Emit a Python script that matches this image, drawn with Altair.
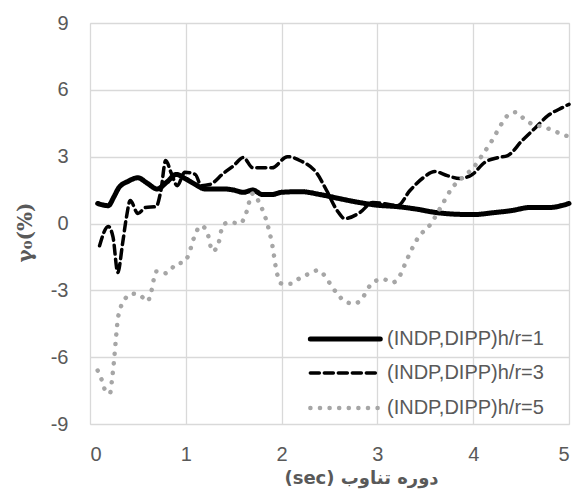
import altair as alt
import pandas as pd

# Period (sec) and gamma_0 (%) for each h/r case
period_r1 = [0.08, 0.19, 0.25, 0.3, 0.4, 0.5, 0.6, 0.7, 0.8, 0.9, 1.0, 1.1, 1.2, 1.4, 1.5,
             1.6, 1.7, 1.8, 1.9, 2.0, 2.2, 2.4, 2.6, 2.8, 3.0, 3.2, 3.4, 3.6, 3.8, 4.0,
             4.2, 4.4, 4.6, 4.8, 5.0]
gamma_r1 = [0.9, 0.8, 1.2, 1.6, 1.9, 2.05, 1.8, 1.55, 1.85, 2.2, 2.0, 1.75, 1.55, 1.55, 1.5,
            1.4, 1.5, 1.3, 1.3, 1.4, 1.43, 1.3, 1.12, 0.95, 0.82, 0.76, 0.65, 0.5, 0.42, 0.4,
            0.48, 0.58, 0.72, 0.72, 0.9]

period_r3 = [0.1, 0.19, 0.24, 0.29, 0.34, 0.38, 0.42, 0.5, 0.58, 0.69, 0.74, 0.79, 0.85,
             0.91, 0.99, 1.1, 1.16, 1.25, 1.39, 1.5, 1.6, 1.7, 1.8, 1.9, 2.06, 2.19, 2.37,
             2.47, 2.58, 2.66, 2.82, 2.95, 3.06, 3.21, 3.34, 3.48, 3.6, 3.73, 3.86, 3.99,
             4.12, 4.26, 4.36, 4.51, 4.65, 4.78, 4.93, 5.0]
gamma_r3 = [-1.0, -0.13, -0.6, -2.2, -0.9, 0.27, 1.03, 0.45, 0.72, 0.76, 1.48, 2.83, 2.24,
            1.7, 2.3, 2.2, 1.7, 1.75, 2.24, 2.6, 2.96, 2.5, 2.5, 2.5, 3.0, 2.83, 2.24,
            1.48, 0.58, 0.22, 0.5, 0.94, 0.9, 0.8, 1.48, 2.06, 2.33, 2.15, 2.02, 2.2,
            2.74, 2.96, 3.05, 3.72, 4.3, 4.84, 5.2, 5.35]

period_r5 = [0.08, 0.13, 0.17, 0.21, 0.23, 0.25, 0.27, 0.29, 0.31, 0.35, 0.44, 0.53, 0.6,
             0.64, 0.69, 0.76, 0.83, 0.9, 0.97, 1.03, 1.08, 1.16, 1.22, 1.28, 1.34, 1.39,
             1.46, 1.57, 1.62, 1.7, 1.77, 1.85, 1.9, 1.95, 2.0, 2.1, 2.19, 2.29, 2.38,
             2.46, 2.52, 2.6, 2.66, 2.76, 2.85, 2.92, 2.97, 3.06, 3.16, 3.24, 3.3, 3.42,
             3.56, 3.67, 3.78, 3.9, 4.0, 4.1, 4.2, 4.3, 4.36, 4.45, 4.53, 4.62, 4.72,
             4.82, 4.93, 5.0]
gamma_r5 = [-6.6, -7.1, -7.6, -7.6, -7.0, -6.2, -5.2, -4.3, -3.9, -3.5, -3.15, -3.25, -3.5,
            -3.05, -2.15, -2.25, -2.15, -1.8, -1.75, -1.4, -0.7, -0.1, -0.35, -1.25, -0.9,
            -0.05, 0.05, 0.0, 0.35, 1.35, 0.9, 0.0, -0.9, -2.2, -2.7, -2.7, -2.45, -2.25,
            -2.1, -2.4, -2.8, -3.25, -3.5, -3.6, -3.3, -2.8, -2.6, -2.5, -2.65, -2.3, -1.7,
            -0.67, 0.0, 0.8, 1.6, 2.1, 2.5, 3.1, 3.75, 4.5, 4.85, 5.0, 4.7, 4.45, 4.35,
            4.2, 4.0, 3.9]

series_names = ["(INDP,DIPP)h/r=1", "(INDP,DIPP)h/r=3", "(INDP,DIPP)h/r=5"]
series_colors = ["#000000", "#000000", "#a6a6a6"]
series_dash = [[1, 0], [9, 5], [0.1, 9.5]]
series_width = [5, 3.5, 4.5]

frames = []
for name, xs, ys in zip(series_names,
                        [period_r1, period_r3, period_r5],
                        [gamma_r1, gamma_r3, gamma_r5]):
    frames.append(pd.DataFrame({"period": xs, "gamma": ys, "series": name}))
df = pd.concat(frames, ignore_index=True)

# Legend key, placed inside the lower-right of the plot (in axis units)
legend_df = pd.DataFrame({
    "series": series_names,
    "x0": [2.3] * 3,
    "x1": [3.03] * 3,
    "xt": [3.1] * 3,
    "y": [-5.18, -6.71, -8.28],
})

FONT = "Liberation Sans"
LABEL_COLOR = "#595959"
GRID = "#d9d9d9"

x_scale = alt.Scale(domain=[0, 5], nice=False)
y_scale = alt.Scale(domain=[-9, 9], nice=False)
color_enc = alt.Color("series:N",
                      scale=alt.Scale(domain=series_names, range=series_colors),
                      legend=None)
dash_enc = alt.StrokeDash("series:N",
                          scale=alt.Scale(domain=series_names, range=series_dash),
                          legend=None)
width_enc = alt.StrokeWidth("series:N",
                            scale=alt.Scale(type="ordinal", domain=series_names,
                                            range=series_width),
                            legend=None)

lines = alt.Chart(df).mark_line(interpolate="monotone", strokeCap="round").encode(
    x=alt.X(
        "period:Q",
        scale=x_scale,
        axis=alt.Axis(
            values=[0, 1, 2, 3, 4, 5],
            labelExpr="toString(datum.value)",
            title="(sec) دوره تناوب",
            titleFont="DejaVu Sans",
            titleFontSize=18,
            titleFontWeight="bold",
            titleColor=LABEL_COLOR,
            titleX=271,
            titleY=54,
            titleAlign="center",
            titleBaseline="middle",
            labelFont=FONT,
            labelFontSize=20,
            labelColor=LABEL_COLOR,
            labelPadding=20,
            ticks=False,
            domain=False,
            gridColor=GRID,
            gridWidth=1.3,
        ),
    ),
    y=alt.Y(
        "gamma:Q",
        scale=y_scale,
        axis=alt.Axis(
            values=[-9, -6, -3, 0, 3, 6, 9],
            labelExpr="toString(datum.value)",
            title="γ₀(%)",
            titleFont="DejaVu Serif",
            titleFontSize=20,
            titleFontWeight="bold",
            titleColor=LABEL_COLOR,
            titleX=-65,
            titleY=209,
            titleAlign="center",
            titleBaseline="middle",
            labelFont=FONT,
            labelFontSize=20,
            labelColor=LABEL_COLOR,
            labelPadding=22,
            ticks=False,
            domain=False,
            gridColor=GRID,
            gridWidth=1.3,
        ),
    ),
    color=color_enc,
    strokeDash=dash_enc,
    strokeWidth=width_enc,
)

key_lines = alt.Chart(legend_df).mark_rule(strokeCap="round").encode(
    x=alt.X("x0:Q", scale=x_scale),
    x2="x1:Q",
    y=alt.Y("y:Q", scale=y_scale),
    color=color_enc,
    strokeDash=dash_enc,
    strokeWidth=width_enc,
)

key_text = alt.Chart(legend_df).mark_text(
    align="left", baseline="middle", font=FONT, fontSize=20, color=LABEL_COLOR
).encode(
    x=alt.X("xt:Q", scale=x_scale),
    y=alt.Y("y:Q", scale=y_scale),
    text="series:N",
)

chart = alt.layer(lines, key_lines, key_text).properties(
    width=479,
    height=401,
    autosize=alt.AutoSizeParams(type="none"),
    padding={"left": 90, "top": 23, "right": 5, "bottom": 68},
).configure_view(
    stroke=GRID,
    strokeWidth=1.3,
).configure(background="white")

chart.save("out.html", embed_options={"renderer": "svg", "actions": False})
